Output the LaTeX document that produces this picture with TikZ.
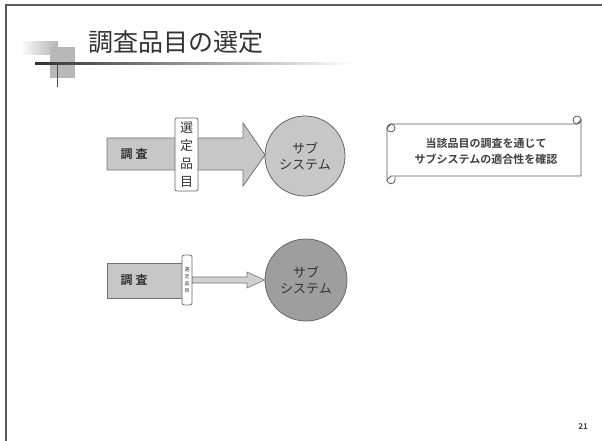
\documentclass[tikz,border=0pt]{standalone}
\usepackage{fontspec}
\newfontfamily\jp{Noto Sans CJK JP}
\newfontfamily\jpb{Noto Sans CJK JP Bold}
\begin{document}
\begin{tikzpicture}[x=1pt,y=-1pt,
  frame/.style={line width=2pt,draw=black!65},
  lbl/.style={font=\jp\fontsize{13}{13}\selectfont,text=black!80,inner sep=0},
  box/.style={draw=black!55,line width=0.8pt},
  circ/.style={circle,draw=black!60,line width=0.8pt,minimum size=80pt,inner sep=0,align=center,font=\jp\fontsize{13}{16}\selectfont,text=black!80},
  tag/.style={draw=black!60,fill=white,rounded corners=2pt,line width=0.7pt}]
\useasboundingbox (0,0) rectangle (602,441);
\fill[white] (0,0) rectangle (602,441);
% frame
\draw[frame] (6,441) -- (6,5) -- (602,5);
% title decoration
\shade[left color=white,right color=black!30] (20,42) rectangle (58,55);
\fill[black!28] (50,47) rectangle (75,78);
\shade[left color=black!80,right color=white] (35,62.5) rectangle (355,64.5);
\draw[black!70,line width=1pt] (57,63) -- (57,87);
\node[font=\jp\fontsize{25}{25}\selectfont,text=black!80,anchor=west,inner sep=0] (title) at (88,42) {調査品目の選定};
% top arrow
\draw[box,fill=black!22] (107,138) -- (243,138) -- (243,123) -- (265,155) -- (243,186) -- (243,170) -- (107,170) -- cycle;
\node[font=\jpb\fontsize{12}{12}\selectfont,text=black!80] (c1) at (134,154) {調\hspace{3pt}査};
\node[circ,fill=black!22] (s1) at (305,156) {サブ\\システム};
\draw[tag] (175,118) rectangle (198,191);
\node[lbl] (t1) at (186.5,128) {選};
\node[lbl] (t2) at (186.5,146) {定};
\node[lbl] (t3) at (186.5,164) {品};
\node[lbl] (t4) at (186.5,182) {目};
% bottom
\node[box,fill=black!22,minimum width=76pt,minimum height=35pt,inner sep=0] (b2) at (145,280.5) {};
\node[font=\jpb\fontsize{12}{12}\selectfont,text=black!80] (c2) at (134,280) {調\hspace{3pt}査};
\node[circ,fill=black!38,minimum size=82pt] (s2) at (306,280) {サブ\\システム};
\draw[box,fill=black!18,line width=0.6pt] (192,277) -- (247,277) -- (247,272) -- (s2.west) -- (247,288) -- (247,283) -- (192,283) -- cycle;
\draw[tag] (182,255) rectangle (192,305);
\node[font=\jp\fontsize{5}{7}\selectfont,text=black!80,align=center,inner sep=0] (t5) at (187,280) {選\\定\\品\\目};
% scroll
\draw[black!65,line width=0.8pt,fill=white] (387,128) -- (387,180) -- (391,176) -- (581,176) -- (581,120) -- (577,124) -- (391,124) -- cycle;
\draw[black!65,line width=0.8pt] (577,120) circle[radius=4];
\draw[black!65,line width=0.8pt] (391,128) circle[radius=4];
\draw[black!65,line width=0.8pt,fill=white] (387,180) .. controls (387,185) and (395,185) .. (395,180) -- (395,176);
\node[font=\jpb\fontsize{11}{16}\selectfont,text=black!75,align=center] (note) at (486,151) {当該品目の調査を通じて\\サブシステムの適合性を確認};
% page number
\node[font=\jpb\fontsize{8}{8}\selectfont,text=black!75] (pg) at (583,427) {21};
\end{tikzpicture}
\end{document}
